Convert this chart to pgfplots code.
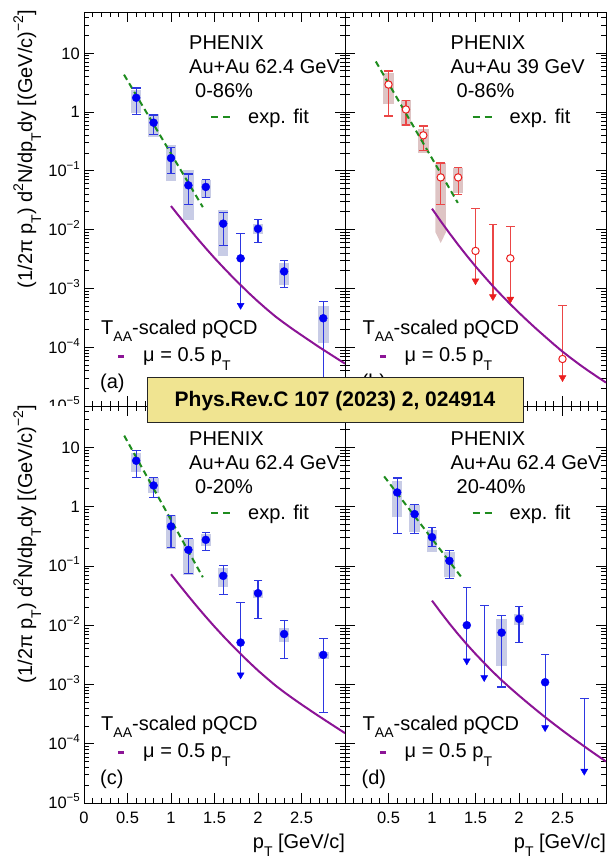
\documentclass[border=0pt]{standalone}
\usepackage{fontspec}
\setmainfont{Liberation Sans}
\usepackage{pgfplots}
\pgfplotsset{compat=1.18}
\definecolor{mblue}{RGB}{0,0,245}
\definecolor{eblue}{RGB}{45,55,225}
\definecolor{bblue}{RGB}{200,204,230}
\definecolor{mred}{RGB}{235,30,30}
\definecolor{ered}{RGB}{235,70,70}
\definecolor{bred}{RGB}{222,196,196}
\definecolor{fgreen}{RGB}{30,140,30}
\definecolor{qpurple}{RGB}{140,20,150}
\definecolor{banner}{RGB}{240,228,145}
\newcommand\fs[1]{\fontsize{#1}{#1}\selectfont}
\newcommand\sub[2][7pt]{\raisebox{-#1}{\fs{14}#2}}
\newcommand\sups[2][9pt]{\raisebox{#1}{\fs{14}#2}}
\newcommand\tsup[1]{\raisebox{7pt}{\fs{11.5}#1}}
\pgfplotsset{
 every axis/.append style={
   scale only axis, width=261pt, xmin=0, xmax=3, ymode=log, ymin=1e-5, ymax=50,
   xtick={0,0.5,1,1.5,2,2.5,3}, minor x tick num=4,
   ytick={1e-5,1e-4,1e-3,1e-2,1e-1,1,10},
   minor ytick={2e-5,3e-5,4e-5,5e-5,6e-5,7e-5,8e-5,9e-5,
     2e-4,3e-4,4e-4,5e-4,6e-4,7e-4,8e-4,9e-4,
     2e-3,3e-3,4e-3,5e-3,6e-3,7e-3,8e-3,9e-3,
     2e-2,3e-2,4e-2,5e-2,6e-2,7e-2,8e-2,9e-2,
     0.2,0.3,0.4,0.5,0.6,0.7,0.8,0.9,2,3,4,5,6,7,8,9,20,30,40,50},
   tick align=inside, xtick pos=both, ytick pos=both,
   major tick length=10pt, minor tick length=5pt,
   every tick/.style={black, line width=0.7pt},
   axis line style={black, line width=0.9pt},
   tick label style={font=\fs{16.5}},
   yticklabel style={anchor=base east, inner sep=0pt, xshift=-4pt, yshift=-5.9pt},
   xticklabel style={anchor=base, inner sep=0pt, yshift=-20pt},
   unbounded coords=jump,
 },
}
\tikzset{
 boxb/.style={bblue, line width=10.5pt, mark=none},
 boxr/.style={bred, line width=10.5pt, mark=none},
 errb/.style={eblue, line width=1.2pt, mark=none},
 errr/.style={ered, line width=1.2pt, mark=none},
 capb/.style={eblue, only marks, mark=-, mark size=4.3pt, mark options={line width=1.2pt}},
 capr/.style={ered, only marks, mark=-, mark size=4.3pt, mark options={line width=1.2pt}},
 tipb/.style={mblue, only marks, mark=triangle*, mark size=4pt, mark options={yshift=4pt, rotate=180}},
 tipr/.style={mred, only marks, mark=triangle*, mark size=4pt, mark options={yshift=4pt, rotate=180}},
 ptb/.style={mblue, only marks, mark=*, mark size=4pt},
 ptr/.style={mred, only marks, mark=*, mark size=3.7pt, mark options={fill=white, line width=1pt}},
 fitl/.style={fgreen, line width=2pt, dash pattern=on 6pt off 4pt, mark=none},
 qcd/.style={qpurple, line width=2pt, mark=none, line join=round},
}
\begin{document}
\begin{tikzpicture}[x=1pt,y=1pt]
\useasboundingbox (0,0) rectangle (610,856);
% ---------------- panel (a)
\begin{axis}[height=394pt, at={(84pt,450pt)}, anchor=south west, xticklabels={},
  yticklabels={10\tsup{−5},10\tsup{−4},10\tsup{−3},10\tsup{−2},10\tsup{−1},1,10}]
\addplot[boxb] coordinates {(0.6,0.95)(0.6,2.4)(0.6,nan)(0.8,0.38)(0.8,0.91)(0.8,nan)(1.0,0.066)(1.0,0.27)(1.0,nan)
 (1.2,0.0148)(1.2,0.104)(1.2,nan)(1.4,0.034)(1.4,0.07)(1.4,nan)(1.6,0.00355)(1.6,0.0213)(1.6,nan)
 (2.0,0.0083)(2.0,0.0126)(2.0,nan)(2.3,0.00116)(2.3,0.00274)(2.3,nan)(2.75,1.16e-4)(2.75,5.0e-4)};
\addplot[errb] coordinates {(0.6,0.91)(0.6,2.56)(0.6,nan)(0.8,0.417)(0.8,0.885)(0.8,nan)(1.0,0.089)(1.0,0.248)(1.0,nan)
 (1.2,0.0267)(1.2,0.088)(1.2,nan)(1.4,0.0355)(1.4,0.0705)(1.4,nan)(1.6,0.0054)(1.6,0.0198)(1.6,nan)
 (1.8,4.8e-4)(1.8,0.0085)(1.8,nan)(2.0,0.006)(2.0,0.0148)(2.0,nan)(2.3,0.00102)(2.3,0.00295)(2.3,nan)(2.75,5e-6)(2.75,5.95e-4)};
\addplot[capb] coordinates {(0.6,0.91)(0.6,2.56)(0.8,0.417)(0.8,0.885)(1.0,0.089)(1.0,0.248)(1.2,0.0267)(1.2,0.088)
 (1.4,0.0355)(1.4,0.0705)(1.6,0.0054)(1.6,0.0198)(1.8,0.0085)(2.0,0.006)(2.0,0.0148)(2.3,0.00102)(2.3,0.00295)(2.75,5.95e-4)};
\addplot[tipb] coordinates {(1.8,4.4e-4)};
\addplot[ptb] coordinates {(0.6,1.74)(0.8,0.656)(1.0,0.164)(1.2,0.0565)(1.4,0.053)(1.6,0.0126)(1.8,0.00324)(2.0,0.0103)(2.3,0.00194)(2.75,3.1e-4)};
\addplot[fitl] coordinates {(0.46,4.3)(1.366,0.024)};
\addplot[qcd] coordinates {(1.0,0.0251)(1.1,0.01633)(1.2,0.01074)(1.3,7.14e-3)(1.4,4.81e-3)(1.5,3.28e-3)(1.6,2.28e-3)
 (1.7,1.60e-3)(1.8,1.14e-3)(1.9,8.18e-4)(2.0,5.97e-4)(2.1,4.43e-4)(2.2,3.33e-4)(2.3,2.58e-4)(2.4,2.02e-4)(2.5,1.60e-4)
 (2.6,1.27e-4)(2.7,1.01e-4)(2.8,8.11e-5)(2.9,6.52e-5)(3.0,5.25e-5)};
\end{axis}
% ---------------- panel (b)
\begin{axis}[height=394pt, at={(345pt,450pt)}, anchor=south west, xticklabels={}, yticklabels={}]
\addplot[boxr] coordinates {(0.5,1.34)(0.5,4.59)(0.5,nan)(0.7,0.58)(0.7,1.6)(0.7,nan)(0.9,0.20)(0.9,0.52)(0.9,nan)(1.3,0.042)(1.3,0.11)};
\addplot[fill=bred, draw=none] coordinates {(1.04,0.135)(1.16,0.135)(1.16,0.009)(1.1,0.0059)(1.04,0.009)} -- cycle;
\addplot[errr] coordinates {(0.5,0.85)(0.5,4.97)(0.5,nan)(0.7,0.60)(0.7,1.58)(0.7,nan)(0.9,0.221)(0.9,0.577)(0.9,nan)
 (1.1,0.027)(1.1,0.135)(1.1,nan)(1.3,0.039)(1.3,0.115)(1.3,nan)(1.5,1.2e-3)(1.5,0.0225)(1.5,nan)
 (1.7,6.5e-4)(1.7,0.0122)(1.7,nan)(1.9,5.8e-4)(1.9,0.0111)(1.9,nan)(2.5,2.8e-5)(2.5,5.1e-4)};
\addplot[capr] coordinates {(0.5,0.85)(0.5,4.97)(0.7,0.60)(0.7,1.58)(0.9,0.221)(0.9,0.577)(1.1,0.027)(1.1,0.135)
 (1.3,0.039)(1.3,0.115)(1.5,0.0225)(1.7,0.0122)(1.9,0.0111)(2.5,5.1e-4)};
\addplot[tipr] coordinates {(1.5,1.15e-3)(1.7,6.2e-4)(1.9,5.6e-4)(2.5,2.6e-5)};
\addplot[ptr] coordinates {(0.5,2.92)(0.7,1.10)(0.9,0.40)(1.1,0.077)(1.3,0.077)(1.5,4.33e-3)(1.9,3.24e-3)(2.5,6.3e-5)};
\addplot[fitl] coordinates {(0.354,7.2)(1.297,0.0284)};
\addplot[qcd] coordinates {(1.0,0.02265)(1.1,0.01390)(1.2,8.69e-3)(1.3,5.53e-3)(1.4,3.59e-3)(1.5,2.37e-3)(1.6,1.60e-3)
 (1.7,1.09e-3)(1.8,7.62e-4)(1.9,5.38e-4)(2.0,3.85e-4)(2.1,2.79e-4)(2.2,2.04e-4)(2.3,1.51e-4)(2.4,1.12e-4)(2.5,8.41e-5)
 (2.6,6.46e-5)(2.7,5.01e-5)(2.8,3.94e-5)(2.9,3.13e-5)(3.0,2.50e-5)};
\end{axis}
\fill[white] (0,0) rectangle (83.4,450);
% ---------------- panel (c)
\begin{axis}[height=397pt, at={(84pt,53pt)}, anchor=south west, xticklabels={0,0.5,1,1.5,2,2.5,{}},
  yticklabels={10\tsup{−5},10\tsup{−4},10\tsup{−3},10\tsup{−2},10\tsup{−1},1,10}]
\addplot[boxb] coordinates {(0.6,3.9)(0.6,8.0)(0.6,nan)(0.8,1.7)(0.8,3.0)(0.8,nan)(1.0,0.19)(1.0,0.73)(1.0,nan)
 (1.2,0.071)(1.2,0.29)(1.2,nan)(1.4,0.22)(1.4,0.34)(1.4,nan)(1.6,0.044)(1.6,0.092)(1.6,nan)
 (2.0,0.029)(2.0,0.040)(2.0,nan)(2.3,5.3e-3)(2.3,9.1e-3)(2.3,nan)(2.75,2.7e-3)(2.75,3.6e-3)};
\addplot[errb] coordinates {(0.6,3.11)(0.6,8.8)(0.6,nan)(0.8,1.45)(0.8,3.11)(0.8,nan)(1.0,0.208)(1.0,0.70)(1.0,nan)
 (1.2,0.0755)(1.2,0.29)(1.2,nan)(1.4,0.18)(1.4,0.37)(1.4,nan)(1.6,0.033)(1.6,0.103)(1.6,nan)
 (1.8,1.3e-3)(1.8,0.0241)(1.8,nan)(2.0,0.0131)(2.0,0.056)(2.0,nan)(2.3,2.73e-3)(2.3,0.012)(2.3,nan)(2.75,3.4e-4)(2.75,6.0e-3)};
\addplot[capb] coordinates {(0.6,3.11)(0.6,8.8)(0.8,1.45)(0.8,3.11)(1.0,0.208)(1.0,0.70)(1.2,0.0755)(1.2,0.29)
 (1.4,0.18)(1.4,0.37)(1.6,0.033)(1.6,0.103)(1.8,0.0241)(2.0,0.0131)(2.0,0.056)(2.3,2.73e-3)(2.3,0.012)(2.75,3.4e-4)(2.75,6.0e-3)};
\addplot[tipb] coordinates {(1.8,1.24e-3)};
\addplot[ptb] coordinates {(0.6,5.96)(0.8,2.28)(1.0,0.464)(1.2,0.187)(1.4,0.276)(1.6,0.068)(1.8,5.1e-3)(2.0,0.0347)(2.3,7.1e-3)(2.75,3.16e-3)};
\addplot[fitl] coordinates {(0.462,15.8)(1.366,0.0645)};
\addplot[qcd] coordinates {(1.0,0.0724)(1.1,0.0471)(1.2,0.0310)(1.3,0.0206)(1.4,0.01387)(1.5,9.46e-3)(1.6,6.56e-3)
 (1.7,4.61e-3)(1.8,3.28e-3)(1.9,2.36e-3)(2.0,1.72e-3)(2.1,1.28e-3)(2.2,9.62e-4)(2.3,7.43e-4)(2.4,5.82e-4)(2.5,4.60e-4)
 (2.6,3.66e-4)(2.7,2.92e-4)(2.8,2.34e-4)(2.9,1.88e-4)(3.0,1.51e-4)};
\end{axis}
% ---------------- panel (d)
\begin{axis}[height=397pt, at={(345pt,53pt)}, anchor=south west, xticklabels={{},0.5,1,1.5,2,2.5,{}}, yticklabels={}]
\addplot[boxb] coordinates {(0.6,0.68)(0.6,2.67)(0.6,nan)(0.8,0.38)(0.8,1.07)(0.8,nan)(1.0,0.17)(1.0,0.41)(1.0,nan)
 (1.2,0.065)(1.2,0.17)(1.2,nan)(1.8,2.04e-3)(1.8,0.0129)(1.8,nan)(2.0,0.0100)(2.0,0.0155)};
\addplot[errb] coordinates {(0.6,0.348)(0.6,3.04)(0.6,nan)(0.8,0.358)(0.8,1.1)(0.8,nan)(1.0,0.213)(1.0,0.446)(1.0,nan)
 (1.2,0.062)(1.2,0.18)(1.2,nan)(1.4,2.3e-3)(1.4,0.0437)(1.4,nan)(1.6,1.2e-3)(1.6,0.0214)(1.6,nan)
 (1.8,9.1e-4)(1.8,0.0144)(1.8,nan)(2.0,5.1e-3)(2.0,0.0206)(2.0,nan)(2.3,1.7e-4)(2.3,3.16e-3)(2.3,nan)(2.75,3.2e-5)(2.75,5.8e-4)};
\addplot[capb] coordinates {(0.6,0.348)(0.6,3.04)(0.8,0.358)(0.8,1.1)(1.0,0.213)(1.0,0.446)(1.2,0.062)(1.2,0.18)
 (1.4,0.0437)(1.6,0.0214)(1.8,9.1e-4)(1.8,0.0144)(2.0,5.1e-3)(2.0,0.0206)(2.3,3.16e-3)(2.75,5.8e-4)};
\addplot[tipb] coordinates {(1.4,2.14e-3)(1.6,1.12e-3)(2.3,1.6e-4)(2.75,2.95e-5)};
\addplot[ptb] coordinates {(0.6,1.74)(0.8,0.75)(1.0,0.306)(1.2,0.122)(1.4,0.0100)(1.8,7.5e-3)(2.0,0.0128)(2.3,1.09e-3)};
\addplot[fitl] coordinates {(0.45,3.24)(1.355,0.060)};
\addplot[qcd] coordinates {(1.0,0.0260)(1.1,0.01652)(1.2,0.01067)(1.3,7.05e-3)(1.4,4.76e-3)(1.5,3.28e-3)(1.6,2.30e-3)
 (1.7,1.63e-3)(1.8,1.18e-3)(1.9,8.71e-4)(2.0,6.49e-4)(2.1,4.88e-4)(2.2,3.69e-4)(2.3,2.81e-4)(2.4,2.16e-4)(2.5,1.67e-4)
 (2.6,1.30e-4)(2.7,1.02e-4)(2.8,8.0e-5)(2.9,6.32e-5)(3.0,5.02e-5)};
\end{axis}
% ---------------- texts
\begin{scope}[every node/.style={font=\fs{20}, inner sep=0pt}]
\foreach \dx/\en/\ce/\pl/\dy in {0/62.4/0-86\%/a/0, 261.5/39/0-86\%/b/0, 0/62.4/0-20\%/c/-396, 261.5/62.4/20-40\%/d/-396}{
  \begin{scope}[xshift=\dx]
  \node[anchor=base west] at (189,806+\dy) {PHENIX};
  \node[anchor=base west] at (189,782.5+\dy) {Au+Au \en\ GeV};
  \node[anchor=base west] at (195,758.5+\dy) {\ce};
  \draw[fgreen, line width=2pt] (211,738.5+\dy) -- (218,738.5+\dy) (223,738.5+\dy) -- (230,738.5+\dy);
  \node[anchor=base west] at (248,732.7+\dy) {exp. fit};
  \node[anchor=base west] at (101,521.7+\dy) {T\sub{AA}-scaled pQCD};
  \draw[qpurple, line width=2.5pt] (118.3,499.5+\dy) -- (124,499.5+\dy);
  \node[anchor=base west] at (143,494.3+\dy) {μ = 0.5 p\sub[9pt]{T}};
  \node[anchor=base west] at (100,467+\dy) {(\pl)};
  \end{scope}
}
\foreach \yy in {846,451}{
  \node[rotate=90, anchor=base east] at (32,\yy) {(1/2π p\sub[9pt]{T}) d\sups{2}N/dp\sub[9pt]{T}dy [(GeV/c)\sups{−2}]};
}
\node[anchor=base east] at (345,8) {p\sub[9pt]{T} [GeV/c]};
\node[anchor=base east] at (606,8) {p\sub[9pt]{T} [GeV/c]};
\end{scope}
% ---------------- banner
\draw[fill=banner, draw=black!85, line width=0.9pt] (147,434) rectangle (523,479);
\node[font=\fs{21}\bfseries, anchor=base, inner sep=0pt] at (335,449.3) {Phys.Rev.C 107 (2023) 2, 024914};
\end{tikzpicture}
\end{document}
